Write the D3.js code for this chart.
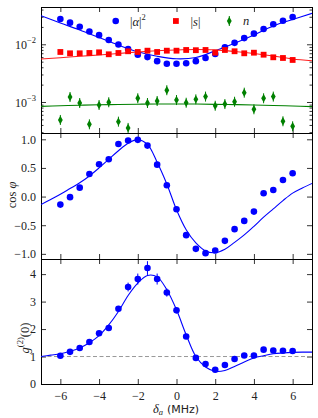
<!DOCTYPE html>
<head>
<meta charset="utf-8">
<title>alpha, cos phi, g2 vs detuning</title>
<script src="https://d3js.org/d3.v7.min.js"></script>
<style>
body { margin: 0; background: #fff; }
.frame { fill: none; stroke: #000; stroke-width: 1; shape-rendering: crispEdges; }
.axis path { display: none; }
.axis line { stroke: #000; stroke-width: 0.8; }
.axis text { font-family: "Liberation Serif", serif; font-size: 12px; fill: #222; }
.lab { font-family: "Liberation Serif", serif; font-size: 12.5px; fill: #222; }
</style>
</head>
<body>
<div id="container"></div>
<script>
//---------------------------DATA-----------------------------//
const delta = [-6,-5.5,-5,-4.5,-4,-3.5,-3,-2.5,-2,-1.5,-1,-0.5,0,0.5,1,1.5,2,2.5,3,3.5,4,4.5,5,5.5,6];

const alphaSq = [0.0274,0.0237,0.0202,0.0167,0.0144,0.0119,0.0099,0.0083,0.0066,0.0060,0.0051,0.0046,
                 0.0046,0.0047,0.0051,0.0058,0.0068,0.0089,0.0106,0.0128,0.0153,0.0184,0.0222,0.0256,0.0297];
const sAbs = [0.00736,0.00698,0.00698,0.00707,0.00726,0.00671,0.00707,0.00757,0.00736,0.00775,0.00736,0.00775,
              0.00775,0.00797,0.0079,0.00797,0.00715,0.00797,0.00757,0.00698,0.00715,0.0066,0.00595,0.00579,0.00535];
const nPop = [4.88e-4,1.22e-3,9.6e-4,4.1e-4,8.87e-4,9.9e-4,4.56e-4,3.55e-4,1.16e-3,9.6e-4,1.04e-3,1.6e-3,
              1.08e-3,9.7e-4,1.11e-3,1.24e-3,8.6e-4,9.2e-4,1.01e-3,1.45e-3,7.47e-4,1.16e-3,1.24e-3,4.63e-4,3.79e-4];

const cosPhi = [-0.14,-0.01,0.156,0.395,0.564,0.651,0.918,0.98,0.99,0.89,0.557,0.197,
                -0.221,-0.674,-0.913,-0.988,-0.942,-0.773,-0.569,-0.425,-0.262,0.058,0.116,0.29,0.407];

const g2 = [1.03,1.17,1.31,1.53,1.85,2.04,2.74,3.53,3.82,4.22,3.82,3.33,
            2.68,1.73,0.95,0.73,0.52,0.69,0.91,1.04,1.04,1.25,1.22,1.21,1.2];
const g2Err = [0.05,0.05,0.06,0.07,0.08,0.08,0.1,0.16,0.2,0.25,0.2,0.15,
               0.1,0.08,0.06,0.05,0.05,0.05,0.05,0.05,0.05,0.05,0.05,0.05,0.05];

// theory curves
const fitDeltaCoarse = [-7,-6,-5,-4,-3,-2,-1,0,1,2,3,4,5,6,7];
const alphaSqFit = [0.0313,0.0234,0.0177,0.0131,0.0097,0.0074,0.0062,0.0056,0.0059,0.0077,0.0104,0.0145,0.0208,0.0269,0.0344];
const sAbsFit = [0.00556,0.00586,0.0062,0.00653,0.00693,0.00736,0.00772,0.00797,0.0081,0.008,0.0075,0.00693,0.00627,0.00556,0.0052];
const nPopFit = [8.4e-4,8.6e-4,8.8e-4,8.95e-4,9.05e-4,9.15e-4,9.2e-4,9.2e-4,9.2e-4,9.1e-4,9.0e-4,8.85e-4,8.7e-4,8.5e-4,8.3e-4];

const fitDelta = [-7,-6.5,-6,-5.5,-5,-4.5,-4,-3.5,-3,-2.5,-2,-1.5,-1,-0.5,0,0.5,1,1.5,2,2.5,3,3.5,4,4.5,5,5.5,6,6.5,7];
const cosPhiFit = [-0.14,-0.05,0.04,0.14,0.24,0.36,0.5,0.65,0.8,0.93,0.995,0.91,0.6,0.22,-0.23,-0.58,-0.81,-0.95,-0.98,
                   -0.92,-0.8,-0.67,-0.52,-0.36,-0.215,-0.07,0.06,0.15,0.23];
const g2Fit = [1.0,1.05,1.1,1.19,1.31,1.5,1.76,2.15,2.64,3.22,3.67,3.95,3.9,3.43,2.70,1.79,1.0,0.62,0.46,0.49,0.64,0.8,
               0.95,1.03,1.1,1.13,1.15,1.16,1.16];

const xTicks = [-6,-4,-2,0,2,4,6];
const logMajor = [1e-3,1e-2];
const logMinor = [3e-4,4e-4,5e-4,6e-4,7e-4,8e-4,9e-4,2e-3,3e-3,4e-3,5e-3,6e-3,7e-3,8e-3,9e-3,2e-2,3e-2,4e-2];
const cosTicks = [-1,-0.5,0,0.5,1];
const g2Ticks = [0,1,2,3,4];

//---------------------------SVG-----------------------------//
const W = 318, H = 418;
const left = 41, right = 312;
const tops = [7, 133, 259], bottoms = [133, 259, 384];

const svg = d3.select("#container").append("svg")
    .attr("width", W).attr("height", H);

const x = d3.scaleLinear().domain([-7, 7]).range([left, right]);

const yTop = d3.scaleLog().domain([2.9e-4, 0.0443]).range([bottoms[0], tops[0]]);
const yMid = d3.scaleLinear().domain([-1.09, 1.11]).range([bottoms[1], tops[1]]);
const yBot = d3.scaleLinear().domain([0, 4.55]).range([bottoms[2], tops[2]]);

const minus = s => String(s).replace("-", "\u2212");

//---------------------------AXES-----------------------------//
function xAxes(i, withLabels) {
  svg.append("g").attr("class", "axis")
    .attr("transform", "translate(0," + bottoms[i] + ")")
    .call(d3.axisBottom(x).tickValues(xTicks).tickSize(-5).tickPadding(7.5)
      .tickFormat(withLabels ? (d => minus(d)) : ""));
  svg.append("g").attr("class", "axis")
    .attr("transform", "translate(0," + tops[i] + ")")
    .call(d3.axisTop(x).tickValues(xTicks).tickSize(-5).tickFormat(""));
}
function yAxes(scale, vals, size, fmt) {
  svg.append("g").attr("class", "axis")
    .attr("transform", "translate(" + left + ",0)")
    .call(d3.axisLeft(scale).tickValues(vals).tickSize(-size).tickPadding(5).tickFormat(fmt || ""));
  svg.append("g").attr("class", "axis")
    .attr("transform", "translate(" + right + ",0)")
    .call(d3.axisRight(scale).tickValues(vals).tickSize(-size).tickFormat(""));
}

xAxes(0, false); xAxes(1, false); xAxes(2, true);

// top (log)
yAxes(yTop, logMinor, 2.5);
yAxes(yTop, logMajor, 5);
// superscripted labels for the log axis
logMajor.forEach(function(v) {
  const t = svg.append("text").attr("class", "lab")
    .attr("x", 36).attr("y", yTop(v) + 5)
    .attr("text-anchor", "end").style("font-size", "12px");
  t.append("tspan").text("10");
  t.append("tspan").attr("dy", -6).style("font-size", "8.5px").text(minus(Math.round(Math.log10(v))));
});

yAxes(yMid, cosTicks, 5, d => minus(d3.format(".1f")(d)));
yAxes(yBot, g2Ticks, 5, d => d);

// frames
tops.forEach(function(t, i) {
  svg.append("rect").attr("class", "frame")
    .attr("x", left).attr("y", t)
    .attr("width", right - left).attr("height", bottoms[i] - t);
});

//---------------------------CLIPS-----------------------------//
tops.forEach(function(t, i) {
  svg.append("clipPath").attr("id", "clip" + i)
    .append("rect").attr("x", left).attr("y", t)
    .attr("width", right - left).attr("height", bottoms[i] - t);
});

//---------------------------TOP PANEL-----------------------------//
const gTop = svg.append("g").attr("clip-path", "url(#clip0)");

function fitLine(g, xs, ys, scale, color) {
  const line = d3.line()
    .x((d, i) => x(xs[i]))
    .y(d => scale(d))
    .curve(d3.curveCatmullRom);
  g.append("path").datum(ys)
    .attr("d", line)
    .attr("fill", "none").attr("stroke", color).attr("stroke-width", 1.1);
}

fitLine(gTop, fitDeltaCoarse, alphaSqFit, yTop, "#0000ff");
fitLine(gTop, fitDeltaCoarse, sAbsFit, yTop, "#ff2020");
fitLine(gTop, fitDeltaCoarse, nPopFit, yTop, "#008000");

const diamond = "M0,-4.2L2.4,0L0,4.2L-2.4,0Z";

gTop.selectAll(".a2").data(alphaSq).enter().append("circle")
    .attr("cx", (d, i) => x(delta[i])).attr("cy", d => yTop(d))
    .attr("r", 3.3).attr("fill", "#0000ff");
gTop.selectAll(".sq").data(sAbs).enter().append("rect")
    .attr("x", (d, i) => x(delta[i]) - 2.9).attr("y", d => yTop(d) - 2.9)
    .attr("width", 5.8).attr("height", 5.8).attr("fill", "#ff0000");
gTop.selectAll(".nd").data(nPop).enter().append("path")
    .attr("d", diamond)
    .attr("transform", (d, i) => "translate(" + x(delta[i]) + "," + yTop(d) + ")")
    .attr("fill", "#008000");
gTop.selectAll(".ne").data(nPop).enter().append("line")
    .attr("x1", (d, i) => x(delta[i])).attr("x2", (d, i) => x(delta[i]))
    .attr("y1", d => yTop(d) - 5).attr("y2", d => yTop(d) + 5)
    .attr("stroke", "#008000").attr("stroke-width", 1);

// legend
const legY = 21;
svg.append("circle").attr("cx", 115.7).attr("cy", legY).attr("r", 3.3).attr("fill", "#0000ff");
svg.append("rect").attr("x", 173).attr("y", legY - 2.9).attr("width", 5.8).attr("height", 5.8).attr("fill", "#ff0000");
svg.append("path").attr("d", diamond).attr("transform", "translate(229.3," + legY + ")").attr("fill", "#008000");
svg.append("line").attr("x1", 229.3).attr("x2", 229.3).attr("y1", legY - 5).attr("y2", legY + 5)
    .attr("stroke", "#008000");

const la = svg.append("text").attr("class", "lab").attr("x", 130).attr("y", legY + 4.5);
la.append("tspan").text("|");
la.append("tspan").style("font-style", "italic").text("\u03b1");
la.append("tspan").text("|");
la.append("tspan").attr("dy", -6).style("font-size", "8.5px").text("2");

const ls = svg.append("text").attr("class", "lab").attr("x", 190.5).attr("y", legY + 4.5);
ls.append("tspan").text("|");
ls.append("tspan").style("font-style", "italic").text("s");
ls.append("tspan").text("|");

svg.append("text").attr("class", "lab").attr("x", 243).attr("y", legY + 4)
    .style("font-style", "italic").text("n");

//---------------------------MIDDLE PANEL-----------------------------//
const gMid = svg.append("g").attr("clip-path", "url(#clip1)");
fitLine(gMid, fitDelta, cosPhiFit, yMid, "#0000ff");
gMid.selectAll(".cp").data(cosPhi).enter().append("circle")
    .attr("cx", (d, i) => x(delta[i])).attr("cy", d => yMid(d))
    .attr("r", 3.3).attr("fill", "#0000ff");

const lc = svg.append("text").attr("class", "lab")
    .attr("transform", "translate(16,195) rotate(-90)")
    .attr("text-anchor", "middle");
lc.append("tspan").text("cos ");
lc.append("tspan").style("font-style", "italic").text("\u03c6");

//---------------------------BOTTOM PANEL-----------------------------//
const gBot = svg.append("g").attr("clip-path", "url(#clip2)");
gBot.append("line")
    .attr("x1", x(-7)).attr("x2", x(7))
    .attr("y1", yBot(1)).attr("y2", yBot(1))
    .attr("stroke", "#999").attr("stroke-width", 1)
    .attr("stroke-dasharray", "4,2.5");
fitLine(gBot, fitDelta, g2Fit, yBot, "#0000ff");
gBot.selectAll(".ge").data(g2).enter().append("line")
    .attr("x1", (d, i) => x(delta[i])).attr("x2", (d, i) => x(delta[i]))
    .attr("y1", (d, i) => yBot(d - g2Err[i])).attr("y2", (d, i) => yBot(d + g2Err[i]))
    .attr("stroke", "#0000ff").attr("stroke-width", 1);
gBot.selectAll(".gp").data(g2).enter().append("circle")
    .attr("cx", (d, i) => x(delta[i])).attr("cy", d => yBot(d))
    .attr("r", 3.3).attr("fill", "#0000ff");

const lg = svg.append("text").attr("class", "lab")
    .attr("transform", "translate(28.5,338) rotate(-90)")
    .attr("text-anchor", "middle");
lg.append("tspan").style("font-style", "italic").text("g");
lg.append("tspan").attr("dy", -6).style("font-size", "8.5px").text("(2)");
lg.append("tspan").attr("dy", 6).text("(0)");

// x label
const lx = svg.append("text").attr("x", 176).attr("y", 412.5)
    .attr("text-anchor", "middle").attr("class", "lab");
lx.append("tspan").style("font-style", "italic").text("\u03b4");
lx.append("tspan").attr("dy", 2.5).style("font-size", "8.5px").style("font-style", "italic").text("a");
lx.append("tspan").attr("dy", -2.5).attr("dx", 4).style("font-family", "DejaVu Sans").style("font-size", "11px").text("(MHz)");
</script>
</body>
